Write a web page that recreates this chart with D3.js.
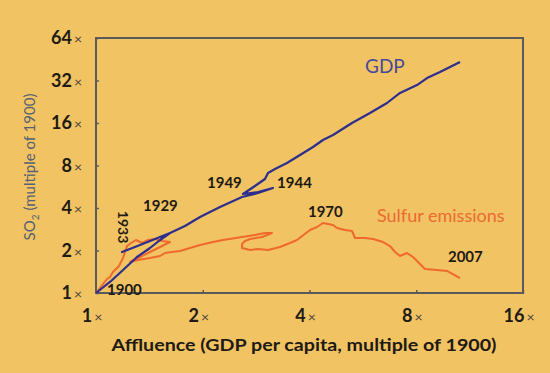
<!DOCTYPE html>
<html>
<head>
<meta charset="utf-8">
<script src="https://cdn.jsdelivr.net/npm/d3@7"></script>
<style>
  body { margin: 0; background: #f2c362; }
  svg { display: block; }
</style>
</head>
<body>
<script>
const WIDTH = 550;
const HEIGHT = 373;
const MARGIN = { top: 38, right: 27, bottom: 80, left: 96 };

const X_TICKS = [1, 2, 4, 8, 16];
const Y_TICKS = [1, 2, 4, 8, 16, 32, 64];

// [affluence, GDP] as multiples of 1900
const GDP_SERIES = [
  [1.00, 1.00], [1.095, 1.197], [1.192, 1.455], [1.305, 1.799], [1.420, 2.083],
  [1.516, 2.374], [1.617, 2.661], [1.420, 2.335], [1.288, 2.118], [1.184, 1.952],
  [1.331, 2.188], [1.467, 2.413], [1.617, 2.661], [1.782, 2.982], [1.965, 3.454],
  [2.237, 4.066], [2.581, 4.786], [2.863, 5.109], [3.156, 5.544], [2.863, 5.192],
  [2.597, 5.026], [2.807, 5.727], [2.996, 6.419], [3.055, 7.080], [3.197, 7.557],
  [3.456, 8.334], [3.761, 9.495], [4.092, 10.82], [4.366, 12.13], [4.660, 13.16],
  [5.271, 16.0], [5.924, 18.83], [6.616, 22.17], [7.200, 26.1], [8.039, 29.7],
  [8.580, 33.3], [9.334, 36.76], [10.63, 43.27]
];

// [affluence, SO2] as multiples of 1900
const SULFUR_SERIES = [
  [1.00, 1.00], [1.026, 1.085], [1.047, 1.158], [1.074, 1.256], [1.095, 1.298],
  [1.117, 1.408], [1.146, 1.503], [1.161, 1.553], [1.176, 1.658], [1.192, 1.770],
  [1.207, 1.952], [1.223, 2.152], [1.255, 2.260], [1.297, 2.374], [1.348, 2.260],
  [1.402, 2.374], [1.467, 2.413], [1.535, 2.335], [1.617, 2.297], [1.516, 2.118],
  [1.420, 1.952], [1.331, 1.799], [1.247, 1.658], [1.313, 1.713], [1.420, 1.770],
  [1.516, 1.829], [1.565, 1.920], [1.638, 1.952], [1.725, 1.984], [1.841, 2.083],
  [1.965, 2.188], [2.138, 2.297], [2.281, 2.374], [2.581, 2.493], [2.807, 2.575],
  [2.996, 2.661], [3.136, 2.661], [2.939, 2.493], [2.719, 2.413], [2.632, 2.335],
  [2.581, 2.224], [2.581, 2.083], [2.719, 2.016], [2.863, 2.049], [3.055, 2.016],
  [3.303, 2.118], [3.524, 2.260], [3.688, 2.374], [4.014, 2.794], [4.200, 2.934],
  [4.366, 3.132], [4.660, 3.031], [4.783, 2.886], [5.038, 2.794], [5.271, 2.749],
  [5.375, 2.452], [5.736, 2.452], [6.042, 2.413], [6.447, 2.297], [6.747, 2.152],
  [6.969, 1.952], [7.200, 1.829], [7.533, 1.920], [7.834, 1.799], [8.198, 1.605],
  [8.467, 1.479], [9.152, 1.455], [9.766, 1.432], [10.63, 1.277]
];

// year annotations, anchored in data units
const YEAR_LABELS = [
  { text: '1900', x: 1.074, y: 0.968 },
  { text: '1929', x: 1.357, y: 3.81 },
  { text: '1949', x: 2.056, y: 5.54 },
  { text: '1944', x: 3.24, y: 5.54 },
  { text: '1970', x: 3.96, y: 3.45 },
  { text: '2007', x: 9.83, y: 1.66 }
];
const ROTATED_LABEL = { text: '1933', x: 1.192, y: 2.93 };

const SERIES_LABELS = [
  { text: 'GDP', x: 5.736, y: 36.2, color: '#474a9a', size: 19 },
  { text: 'Sulfur emissions', x: 6.2, y: 3.18, color: '#ec6a34', size: 18 }
];

window.onload = () => {
  drawChart();
}

function drawChart() {
  let xScale =
    d3.scaleLog()
      .base(2)
      .domain([1, 16])
      .range([MARGIN.left, WIDTH - MARGIN.right]);

  let yScale =
    d3.scaleLog()
      .base(2)
      .domain([1, 64])
      .range([HEIGHT - MARGIN.bottom, MARGIN.top]);

  let svg =
    d3.select('body')
      .append('svg')
      .attr('width', WIDTH)
      .attr('height', HEIGHT)
      .style('font-family', 'Lato, sans-serif');

  svg.append('rect')
     .attr('width', WIDTH)
     .attr('height', HEIGHT)
     .attr('fill', '#f2c362');

  // inward ticks
  svg.append('g')
     .attr('transform', `translate(0,${HEIGHT - MARGIN.bottom})`)
     .call(d3.axisBottom(xScale).tickValues(X_TICKS).tickSize(-3).tickFormat(''))
     .call(g => g.select('.domain').remove())
     .selectAll('line').attr('stroke', '#5d5d5d').attr('stroke-width', 1.5);

  svg.append('g')
     .attr('transform', `translate(${MARGIN.left},0)`)
     .call(d3.axisLeft(yScale).tickValues(Y_TICKS).tickSize(-3).tickFormat(''))
     .call(g => g.select('.domain').remove())
     .selectAll('line').attr('stroke', '#5d5d5d').attr('stroke-width', 1.5);

  svg.append('rect')
     .attr('x', xScale(1))
     .attr('y', yScale(64))
     .attr('width', xScale(16) - xScale(1))
     .attr('height', yScale(1) - yScale(64))
     .attr('fill', 'none')
     .attr('stroke', '#5a5a5a')
     .attr('stroke-width', 2);

  // tick labels
  let xLabels =
    svg.selectAll('text.xtick')
       .data(X_TICKS)
       .enter()
       .append('text')
       .attr('class', 'xtick')
       .attr('x', (d) => { return xScale(d) - 4; })
       .attr('y', 322)
       .attr('text-anchor', 'middle')
       .attr('font-size', '18px')
       .attr('font-weight', 'bold')
       .attr('fill', '#1e1a14');
  xLabels.append('tspan').text((d) => { return d; });
  xLabels.append('tspan')
         .attr('dx', 2)
         .attr('font-size', '14px')
         .attr('font-weight', 'normal')
         .attr('fill', '#4a4540')
         .text('×');

  let yLabels =
    svg.selectAll('text.ytick')
       .data(Y_TICKS)
       .enter()
       .append('text')
       .attr('class', 'ytick')
       .attr('x', 82)
       .attr('y', (d) => { return yScale(d) + 6; })
       .attr('text-anchor', 'end')
       .attr('font-size', '18px')
       .attr('font-weight', 'bold')
       .attr('fill', '#1e1a14');
  yLabels.append('tspan').text((d) => { return d; });
  yLabels.append('tspan')
         .attr('dx', 2)
         .attr('font-size', '14px')
         .attr('font-weight', 'normal')
         .attr('fill', '#4a4540')
         .text('×');

  // axis titles
  svg.append('text')
     .attr('x', 304)
     .attr('y', 351)
     .attr('text-anchor', 'middle')
     .attr('font-size', '17px')
     .attr('font-weight', 'bold')
     .attr('fill', '#1e1a14')
     .attr('textLength', 385)
     .attr('lengthAdjust', 'spacingAndGlyphs')
     .text('Affluence (GDP per capita, multiple of 1900)');

  let yTitle =
    svg.append('text')
       .attr('transform', 'translate(35,167) rotate(-90)')
       .attr('text-anchor', 'middle')
       .attr('font-size', '15px')
       .attr('fill', '#566075');
  yTitle.append('tspan').text('SO');
  yTitle.append('tspan').attr('font-size', '10px').attr('dy', 4).text('2');
  yTitle.append('tspan').attr('dy', -4).text(' (multiple of 1900)');

  let line =
    d3.line()
      .x((d) => { return xScale(d[0]); })
      .y((d) => { return yScale(d[1]); });

  svg.append('path')
     .datum(SULFUR_SERIES)
     .attr('d', line)
     .attr('fill', 'none')
     .attr('stroke', '#f0692c')
     .attr('stroke-width', 2)
     .attr('stroke-linejoin', 'round');

  svg.append('path')
     .datum(GDP_SERIES)
     .attr('d', line)
     .attr('fill', 'none')
     .attr('stroke', '#2d2f8e')
     .attr('stroke-width', 2.2)
     .attr('stroke-linejoin', 'round');

  // annotations
  svg.selectAll('text.year')
     .data(YEAR_LABELS)
     .enter()
     .append('text')
     .attr('class', 'year')
     .attr('x', (d) => { return xScale(d.x); })
     .attr('y', (d) => { return yScale(d.y); })
     .attr('font-size', '15px')
     .attr('font-weight', 'bold')
     .attr('fill', '#1e1a14')
     .text((d) => { return d.text; });

  svg.append('text')
     .attr('transform', `translate(${xScale(ROTATED_LABEL.x)},${yScale(ROTATED_LABEL.y)}) rotate(90)`)
     .attr('text-anchor', 'middle')
     .attr('dy', '0.35em')
     .attr('font-size', '14px')
     .attr('font-weight', 'bold')
     .attr('fill', '#1e1a14')
     .text(ROTATED_LABEL.text);

  svg.selectAll('text.series')
     .data(SERIES_LABELS)
     .enter()
     .append('text')
     .attr('class', 'series')
     .attr('x', (d) => { return xScale(d.x); })
     .attr('y', (d) => { return yScale(d.y); })
     .attr('font-size', (d) => { return d.size + 'px'; })
     .attr('fill', (d) => { return d.color; })
     .text((d) => { return d.text; });
}
</script>
</body>
</html>
